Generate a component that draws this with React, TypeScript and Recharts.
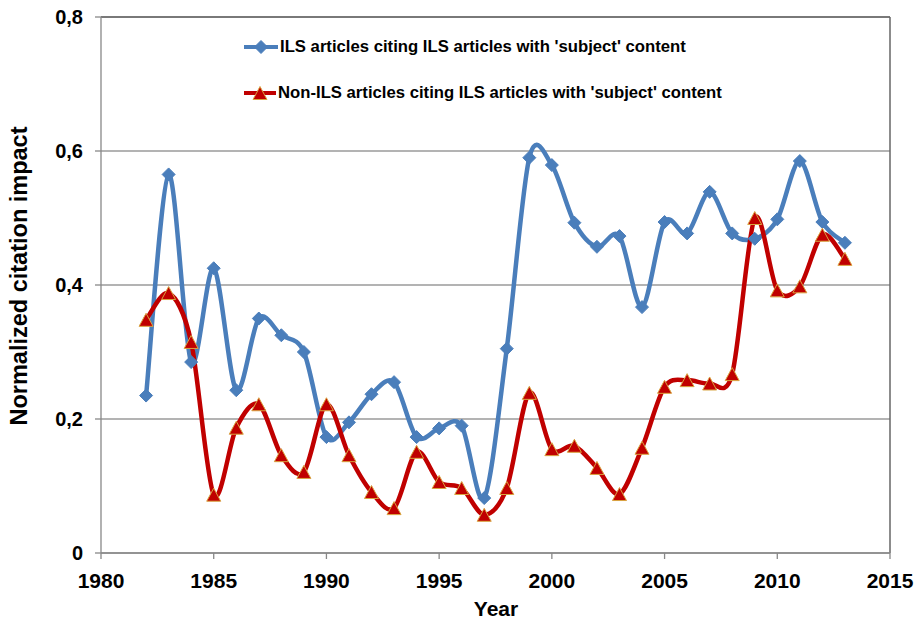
import React from 'react';
import { LineChart, Line, XAxis, YAxis, CartesianGrid, Legend, ReferenceLine, Label } from 'recharts';

const years = [1982, 1983, 1984, 1985, 1986, 1987, 1988, 1989, 1990, 1991, 1992, 1993, 1994, 1995, 1996, 1997, 1998, 1999, 2000, 2001, 2002, 2003, 2004, 2005, 2006, 2007, 2008, 2009, 2010, 2011, 2012, 2013];
const ilsValues = [0.235, 0.565, 0.285, 0.425, 0.243, 0.35, 0.325, 0.3, 0.173, 0.195, 0.237, 0.255, 0.173, 0.186, 0.19, 0.082, 0.305, 0.59, 0.579, 0.493, 0.457, 0.473, 0.367, 0.494, 0.477, 0.539, 0.477, 0.469, 0.498, 0.585, 0.494, 0.463];
const nonIlsValues = [0.348, 0.388, 0.315, 0.087, 0.187, 0.222, 0.146, 0.121, 0.222, 0.146, 0.091, 0.067, 0.151, 0.106, 0.097, 0.057, 0.097, 0.239, 0.155, 0.16, 0.127, 0.088, 0.157, 0.248, 0.258, 0.253, 0.267, 0.5, 0.392, 0.398, 0.475, 0.439];
const xTicks = [1980, 1985, 1990, 1995, 2000, 2005, 2010, 2015];
const yTicks = [0, 0.2, 0.4, 0.6, 0.8];
const seriesNames = ["ILS articles citing ILS articles with 'subject' content", "Non-ILS articles citing ILS articles with 'subject' content"];
const xTitle = 'Year';
const yTitle = 'Normalized citation impact';

const data = years.map((y, i) => ({ year: y, ils: ilsValues[i], nonIls: nonIlsValues[i] }));

const BLUE = '#4A7EBB';
const RED = '#C00000';
const FONT = '"Liberation Sans", Arial, sans-serif';

// Excel-like smoothed line (Catmull-Rom through points)
const excelCurve: any = (context: any) => {
  let pts: number[][] = [];
  return {
    areaStart() {},
    areaEnd() {},
    lineStart() { pts = []; },
    lineEnd() {
      if (pts.length === 0) return;
      context.moveTo(pts[0][0], pts[0][1]);
      for (let i = 0; i < pts.length - 1; i++) {
        const p0 = pts[i - 1] || pts[i];
        const p1 = pts[i];
        const p2 = pts[i + 1];
        const p3 = pts[i + 2] || pts[i + 1];
        const k = 1 / 6.5;
        const c1x = p1[0] + (p2[0] - p0[0]) * k;
        const c1y = p1[1] + (p2[1] - p0[1]) * k;
        const c2x = p2[0] - (p3[0] - p1[0]) * k;
        const c2y = p2[1] - (p3[1] - p1[1]) * k;
        context.bezierCurveTo(c1x, c1y, c2x, c2y, p2[0], p2[1]);
      }
    },
    point(x: number, y: number) { pts.push([x, y]); },
  };
};

const Diamond = (props: any) => {
  const { cx, cy, index } = props;
  if (cx == null || cy == null) return <g key={`d${index}`} />;
  const r = 6.5;
  return <path key={`d${index}`} d={`M${cx},${cy - r}L${cx + r},${cy}L${cx},${cy + r}L${cx - r},${cy}Z`} fill={BLUE} stroke={BLUE} strokeWidth={1} />;
};

const Triangle = (props: any) => {
  const { cx, cy, index } = props;
  if (cx == null || cy == null) return <g key={`t${index}`} />;
  const w = 7, h = 6.5;
  return <path key={`t${index}`} d={`M${cx},${cy - h}L${cx + w},${cy + h}L${cx - w},${cy + h}Z`} fill={RED} stroke="#D9A441" strokeWidth={1} />;
};

const renderLegend = () => (
  <div style={{ fontFamily: FONT, fontWeight: 'bold', fontSize: 16.7, color: '#000', lineHeight: '20px' }}>
    <div style={{ display: 'flex', alignItems: 'center', height: 20 }}>
      <svg width={34} height={20} style={{ marginRight: 2 }}>
        <line x1={0} y1={10} x2={34} y2={10} stroke={BLUE} strokeWidth={4} />
        <Diamond cx={17} cy={10} index={0} />
      </svg>
      <span>{seriesNames[0]}</span>
    </div>
    <div style={{ display: 'flex', alignItems: 'center', height: 20, marginTop: 26 }}>
      <svg width={32} height={20} style={{ marginRight: 2 }}>
        <line x1={0} y1={10} x2={32} y2={10} stroke={RED} strokeWidth={4} />
        <Triangle cx={16} cy={10} index={0} />
      </svg>
      <span>{seriesNames[1]}</span>
    </div>
  </div>
);

const fmtY = (v: number) => (v === 0 ? '0' : v.toFixed(1).replace('.', ','));

const titleStyle = { fill: '#000', fontFamily: FONT, fontWeight: 'bold' as const };

export default function App() {
  return (
    <div style={{ position: 'absolute', left: 0, top: 0, background: '#fff' }}>
      <LineChart width={921} height={621} data={data} margin={{ top: 17, right: 31, bottom: 28, left: 41 }}>
        <CartesianGrid horizontal vertical={false} stroke="#9a9a9a" strokeWidth={1.3} />
        <ReferenceLine y={0.8} stroke="#666" strokeWidth={1.5} />
        <ReferenceLine x={2015} stroke="#666" strokeWidth={1.5} />
        <XAxis
          dataKey="year"
          type="number"
          domain={[1980, 2015]}
          ticks={xTicks}
          allowDataOverflow
          height={40}
          stroke="#888"
          strokeWidth={1.3}
          tickSize={6}
          tickMargin={14}
          tick={{ fill: '#000', fontFamily: FONT, fontWeight: 'bold', fontSize: 21 }}
        >
          <Label
            value={xTitle}
            content={() => (
              <text x={496} y={616} textAnchor="middle" {...titleStyle} fontSize={21}>{xTitle}</text>
            )}
          />
        </XAxis>
        <YAxis
          type="number"
          domain={[0, 0.8]}
          ticks={yTicks}
          tickFormatter={fmtY}
          width={60}
          stroke="#888"
          strokeWidth={1.3}
          tickSize={6}
          tickMargin={12}
          tick={{ fill: '#000', fontFamily: FONT, fontWeight: 'bold', fontSize: 20 }}
        >
          <Label
            value={yTitle}
            content={() => (
              <text x={27} y={276} transform="rotate(-90 27 276)" textAnchor="middle" {...titleStyle} fontSize={23.5}>{yTitle}</text>
            )}
          />
        </YAxis>
        <Legend
          layout="horizontal"
          verticalAlign="middle"
          align="center"
          content={renderLegend}
          wrapperStyle={{ position: 'absolute', left: 244, top: 37, width: 620, height: 70 }}
        />
        <Line
          dataKey="ils"
          name={seriesNames[0]}
          type={excelCurve}
          stroke={BLUE}
          strokeWidth={4.5}
          dot={Diamond}
          activeDot={false}
          isAnimationActive={false}
        />
        <Line
          dataKey="nonIls"
          name={seriesNames[1]}
          type={excelCurve}
          stroke={RED}
          strokeWidth={4.5}
          dot={Triangle}
          activeDot={false}
          isAnimationActive={false}
        />
      </LineChart>
    </div>
  );
}
